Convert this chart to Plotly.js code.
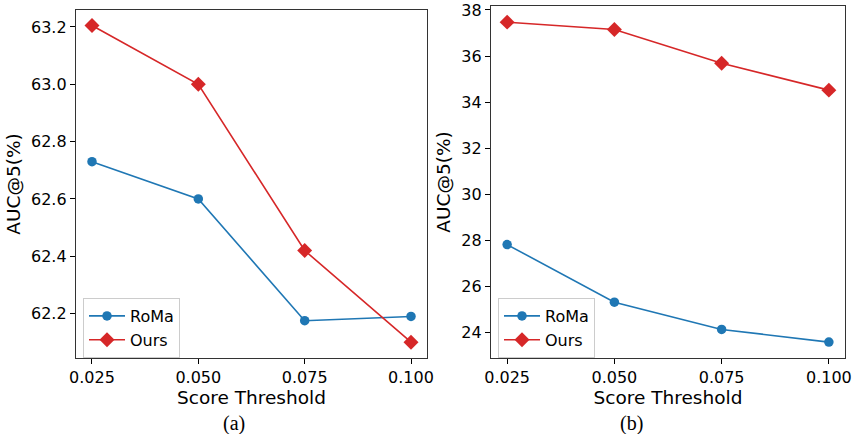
<!DOCTYPE html>
<html>
<head>
<meta charset="utf-8">
<script src="https://cdn.plot.ly/plotly-3.0.1.min.js"></script>
<style>html,body{margin:0;padding:0;background:#fff;}#chart{width:852px;height:434px;}</style>
</head>
<body>
<div id="chart"></div>
<script>
const thresholds = [0.025, 0.050, 0.075, 0.100];
const tickLabels = ["0.025", "0.050", "0.075", "0.100"];
const romaA = [62.73, 62.60, 62.175, 62.19];
const oursA = [63.205, 63.00, 62.42, 62.10];
const romaB = [27.82, 25.32, 24.14, 23.59];
const oursB = [37.47, 37.15, 35.69, 34.52];
const seriesNames = ["RoMa", "Ours"];
const captions = ["(a)", "(b)"];
const yTitle = "AUC@5(%)";
const xTitle = "Score Threshold";

const blue = "#1f77b4", red = "#d62728";
const tickFont = {family: "DejaVu Sans", size: 16, color: "#000"};

function tr(y, name, color, symbol, xa, ya, legend, size) {
  return {x: thresholds, y: y, name: name, type: "scatter", mode: "lines+markers",
    xaxis: xa, yaxis: ya, legend: legend,
    line: {color: color, width: 1.6},
    marker: {color: color, symbol: symbol, size: size}};
}
const data = [
  tr(romaA, seriesNames[0], blue, "circle", "x", "y", "legend", 9.5),
  tr(oursA, seriesNames[1], red, "diamond", "x", "y", "legend", 11.5),
  tr(romaB, seriesNames[0], blue, "circle", "x2", "y2", "legend2", 9.5),
  tr(oursB, seriesNames[1], red, "diamond", "x2", "y2", "legend2", 11.5)
];

function xax(domain, anchor) {
  return {domain: domain, anchor: anchor, range: [0.02124, 0.10376],
    tickvals: thresholds, ticktext: tickLabels, ticks: "outside", ticklen: 5, tickwidth: 1,
    tickcolor: "#000", tickfont: tickFont, showgrid: false, zeroline: false,
    showline: true, mirror: true, linecolor: "#333", linewidth: 1.2,
    title: {text: xTitle, font: {family: "DejaVu Sans", size: 18.5, color: "#000"}, standoff: 2}};
}
function yax(domain, anchor, range, dtick) {
  return {domain: domain, anchor: anchor, range: range, dtick: dtick,
    ticks: "outside", ticklen: 5, tickwidth: 1, tickcolor: "#000", tickfont: tickFont,
    showgrid: false, zeroline: false, showline: true, mirror: true,
    linecolor: "#333", linewidth: 1.2, tickformat: dtick < 1 ? ".1f" : "d",
    title: {text: yTitle, font: {family: "DejaVu Sans", size: 18.5, color: "#000"}, standoff: 5}};
}
const legendStyle = (x) => ({x: x, y: 1-298/434, xanchor: "left", yanchor: "top",
  bgcolor: "rgba(255,255,255,0.8)", bordercolor: "#ccc", borderwidth: 1, itemwidth: 36,
  font: {family: "DejaVu Sans", size: 16, color: "#000"}, tracegroupgap: 0});

const layout = {
  width: 852, height: 434, margin: {l: 0, r: 0, t: 0, b: 0},
  paper_bgcolor: "#fff", plot_bgcolor: "#fff", showlegend: true,
  xaxis: xax([76/852, 427/852], "y"),
  yaxis: yax([1-358/434, 1-10/434], "x", [62.045, 63.259], 0.2),
  xaxis2: xax([491/852, 845/852], "y2"),
  yaxis2: yax([1-358/434, 1-6/434], "x2", [22.90, 38.17], 2),
  legend: legendStyle(83/852),
  legend2: legendStyle(498/852),
  annotations: [
    {text: captions[0], x: 221/852, y: 1-423/434, xref: "paper", yref: "paper", yanchor: "middle", showarrow: false,
     font: {family: "Liberation Serif", size: 20, color: "#000"}},
    {text: captions[1], x: 645/852, y: 1-423/434, xref: "paper", yref: "paper", yanchor: "middle", showarrow: false,
     font: {family: "Liberation Serif", size: 20, color: "#000"}}
  ]
};
Plotly.newPlot("chart", data, layout, {displayModeBar: false, staticPlot: true});
</script>
</body>
</html>
